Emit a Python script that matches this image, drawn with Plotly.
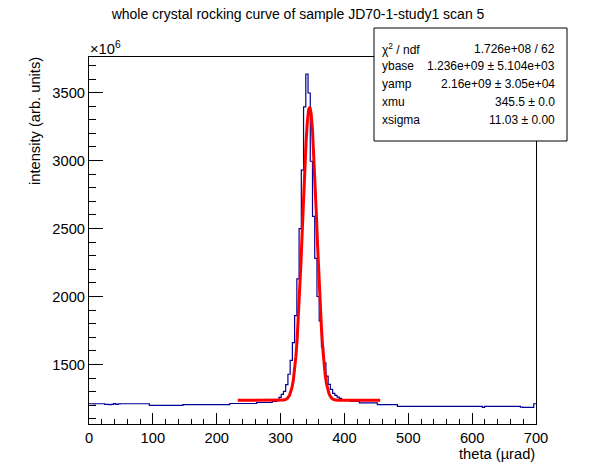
import numpy as np
import plotly.graph_objects as go

# histogram: 200 bins of 3.5 urad from 0 to 700, intensity in units of 1e6
x_low = 0.0
x_high = 700.0
counts = [
    1211, 1211, 1210, 1211, 1211, 1211, 1211, 1206, 1206, 1205,
    1207, 1212, 1206, 1210, 1211, 1211, 1211, 1211, 1211, 1211,
    1211, 1211, 1211, 1211, 1211, 1211, 1211, 1199, 1199, 1199,
    1199, 1199, 1199, 1199, 1199, 1199, 1199, 1199, 1199, 1199,
    1199, 1199, 1204, 1204, 1204, 1204, 1204, 1204, 1204, 1204,
    1204, 1204, 1204, 1204, 1204, 1204, 1204, 1204, 1204, 1204,
    1204, 1204, 1204, 1213, 1213, 1213, 1213, 1213, 1213, 1213,
    1213, 1213, 1213, 1213, 1213, 1220, 1220, 1220, 1220, 1220,
    1220, 1220, 1228, 1228, 1233, 1258, 1280, 1302, 1352, 1428,
    1530, 1660, 1860, 2130, 2500, 2930, 3395, 3637, 3497, 2995,
    2590, 2280, 2000, 1820, 1630, 1512, 1414, 1353, 1316, 1287,
    1272, 1260, 1250, 1242, 1238, 1238, 1238, 1228, 1228, 1228,
    1228, 1218, 1218, 1218, 1218, 1218, 1218, 1218, 1218, 1204,
    1204, 1204, 1204, 1204, 1204, 1204, 1204, 1204, 1191, 1191,
    1191, 1191, 1191, 1191, 1191, 1191, 1191, 1191, 1191, 1191,
    1191, 1191, 1191, 1191, 1191, 1191, 1191, 1191, 1191, 1191,
    1191, 1191, 1191, 1191, 1191, 1191, 1191, 1191, 1191, 1191,
    1191, 1191, 1191, 1191, 1191, 1191, 1184, 1191, 1191, 1191,
    1191, 1191, 1191, 1191, 1191, 1191, 1191, 1191, 1191, 1191,
    1191, 1191, 1191, 1186, 1184, 1184, 1184, 1184, 1185, 1211,
]

# fitted curve as drawn in red
fit_x = [233, 300, 305, 308, 311, 314, 316, 318, 320, 322, 324, 326, 328,
         330, 332, 334, 336, 338, 340, 342, 344, 346, 348, 350, 352, 354,
         356, 358, 360, 362, 364, 366, 368, 370, 372, 374, 376, 379, 382,
         386, 392, 456]
fit_y = [1236, 1236, 1238, 1243, 1252, 1273, 1296, 1333, 1385, 1459, 1559,
         1688, 1849, 2041, 2257, 2490, 2726, 2950, 3143, 3290, 3376, 3394,
         3341, 3224, 3052, 2841, 2609, 2373, 2146, 1941, 1765, 1620, 1506,
         1419, 1357, 1313, 1283, 1257, 1245, 1238, 1236, 1236]

stat_names = ["χ<sup>2</sup> / ndf", "ybase", "yamp", "xmu", "xsigma"]
stat_values = ["1.726e+08 / 62", "1.236e+09 ± 5.104e+03",
               "2.16e+09 ± 3.05e+04", "345.5 ± 0.0", "11.03 ± 0.00"]

edges = np.linspace(x_low, x_high, len(counts) + 1)
hx = list(edges)
hy = counts + [counts[-1]]

font = "Liberation Sans, Arial, Helvetica, sans-serif"
W, H = 596, 472
L, R, T, B = 89, 60, 57, 48
pw, ph = W - L - R, H - T - B


def px(xp):
    # canvas pixel -> paper x
    return (xp - L) / pw


def py(yp):
    # canvas pixel (from top) -> paper y
    return (H - B - yp) / ph


fig = go.Figure()
fig.add_trace(go.Scatter(x=hx, y=hy, mode="lines", line_shape="hv",
                         line=dict(color="#000099", width=1.2),
                         showlegend=False, hoverinfo="skip"))
fig.add_trace(go.Scatter(x=fit_x, y=fit_y, mode="lines",
                         line=dict(color="#ff0000", width=3),
                         showlegend=False, hoverinfo="skip"))

fig.update_layout(
    width=W, height=H,
    margin=dict(l=L, r=R, t=T, b=B, autoexpand=False),
    paper_bgcolor="white", plot_bgcolor="white",
    font=dict(family=font, size=14.7, color="black"),
    title=dict(text="whole crystal rocking curve of sample JD70-1-study1 scan 5",
               x=0.5, xanchor="center", y=1 - 14 / H, yanchor="middle",
               font=dict(size=14)),
)
fig.update_xaxes(range=[0, 700], showline=True, linecolor="black", linewidth=1,
                 mirror=True, showgrid=False, zeroline=False,
                 ticks="inside", ticklen=11, tickcolor="black", dtick=100,
                 tick0=0, minor=dict(ticks="inside", ticklen=5.5, dtick=20,
                                     tickcolor="black", showgrid=False))
fig.update_yaxes(range=[1062, 3762], showline=True, linecolor="black", linewidth=1,
                 mirror=True, showgrid=False, zeroline=False,
                 ticks="inside", ticklen=14, tickcolor="black", dtick=500,
                 tick0=0, minor=dict(ticks="inside", ticklen=7, dtick=100,
                                     tickcolor="black", showgrid=False))

# axis titles, ROOT style aligned to axis ends
fig.add_annotation(text="theta (µrad)", xref="paper", yref="paper",
                   x=px(537), y=py(454), xanchor="right", yanchor="middle",
                   showarrow=False, font=dict(size=14.7))
fig.add_annotation(text="intensity (arb. units)", xref="paper", yref="paper",
                   x=px(35), y=py(55), xanchor="center", yanchor="top",
                   textangle=-90, showarrow=False, font=dict(size=14.7))
fig.add_annotation(text="×10<sup>6</sup>", xref="paper", yref="paper",
                   x=px(88), y=py(48), xanchor="left", yanchor="middle",
                   showarrow=False, font=dict(size=14.7))

# stats box
fig.add_shape(type="rect", xref="paper", yref="paper",
              x0=px(374), x1=px(567), y0=py(141), y1=py(28),
              line=dict(color="black", width=1), fillcolor="white")
row_y = [48.5, 66.3, 84, 101.8, 119.8]
for name, val, ry in zip(stat_names, stat_values, row_y):
    fig.add_annotation(text=name, xref="paper", yref="paper",
                       x=px(380), y=py(ry), xanchor="left", yanchor="middle",
                       showarrow=False, font=dict(size=12))
    fig.add_annotation(text=val, xref="paper", yref="paper",
                       x=px(557), y=py(ry), xanchor="right", yanchor="middle",
                       showarrow=False, font=dict(size=12))

fig.write_html("out.html", config={"displayModeBar": False},
               post_script="document.body.style.margin='0';")
